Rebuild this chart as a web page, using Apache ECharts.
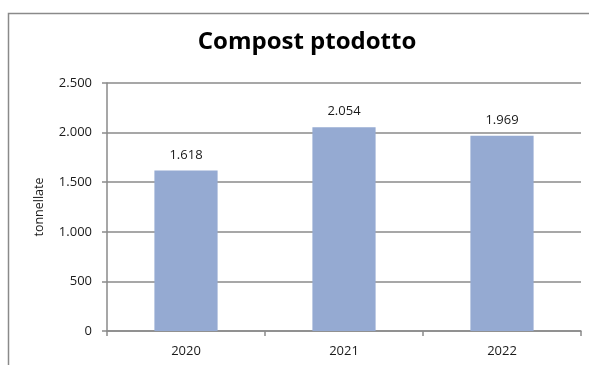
<!DOCTYPE html>
<html>
<head>
<meta charset="utf-8">
<script src="https://cdn.jsdelivr.net/npm/echarts@6/dist/echarts.min.js"></script>
<style>
  html, body { margin: 0; padding: 0; background: #fff; }
  #chart { width: 589px; height: 365px; }
</style>
</head>
<body>
<div id="chart"></div>
<script>
// Compost produced per year, in tonnes
const years = ['2020', '2021', '2022'];
const tonnes = [1618, 2054, 1969];
const yTicks = [0, 500, 1000, 1500, 2000, 2500];

const FONT = '"Open Sans", "Noto Sans", sans-serif';

// Italian thousands separator
function fmt(v) {
  return String(v).replace(/\B(?=(\d{3})+(?!\d))/g, '.');
}

const chart = echarts.init(document.getElementById('chart'), null, { renderer: 'canvas' });
chart.setOption({
  backgroundColor: '#ffffff',
  animation: false,
  graphic: [{
    type: 'rect',
    shape: { x: 8.5, y: 13.5, width: 700, height: 500 },
    style: { fill: 'none', stroke: '#8a8a8a', lineWidth: 1.5 },
    silent: true
  }],
  title: {
    text: 'Compost ptodotto',
    left: 302,
    textAlign: 'center',
    top: 25,
    textStyle: { fontFamily: FONT, fontWeight: 'bold', fontSize: 24, color: '#000' }
  },
  grid: { left: 107, right: 8, top: 83, bottom: 34, containLabel: false },
  xAxis: {
    type: 'category',
    data: years,
    axisLine: { show: true, lineStyle: { color: '#8a8a8a', width: 1.5 } },
    axisTick: { show: true, alignWithLabel: false, length: 5, lineStyle: { color: '#8a8a8a', width: 1.5 } },
    axisLabel: { fontFamily: FONT, fontSize: 13, color: '#1a1a1a', margin: 14 },
    splitLine: { show: false }
  },
  yAxis: {
    type: 'value',
    min: yTicks[0],
    max: yTicks[yTicks.length - 1],
    interval: yTicks[1] - yTicks[0],
    name: 'tonnellate',
    nameLocation: 'middle',
    nameRotate: 90,
    nameGap: 61,
    nameTextStyle: { fontFamily: FONT, fontSize: 12.5, color: '#1a1a1a' },
    axisLine: { show: true, lineStyle: { color: '#8a8a8a', width: 1.5 } },
    axisTick: { show: true, length: 5, lineStyle: { color: '#8a8a8a', width: 1.5 } },
    axisLabel: { fontFamily: FONT, fontSize: 13, color: '#1a1a1a', margin: 15, formatter: fmt },
    splitLine: { show: true, lineStyle: { color: '#8a8a8a', width: 1.5 } }
  },
  series: [{
    type: 'bar',
    data: tonnes,
    barWidth: '40%',
    itemStyle: { color: '#95aad2' },
    label: {
      show: true,
      position: 'top',
      distance: 9,
      fontFamily: FONT,
      fontSize: 13,
      color: '#1a1a1a',
      formatter: p => fmt(p.value)
    }
  }]
});
</script>
</body>
</html>
